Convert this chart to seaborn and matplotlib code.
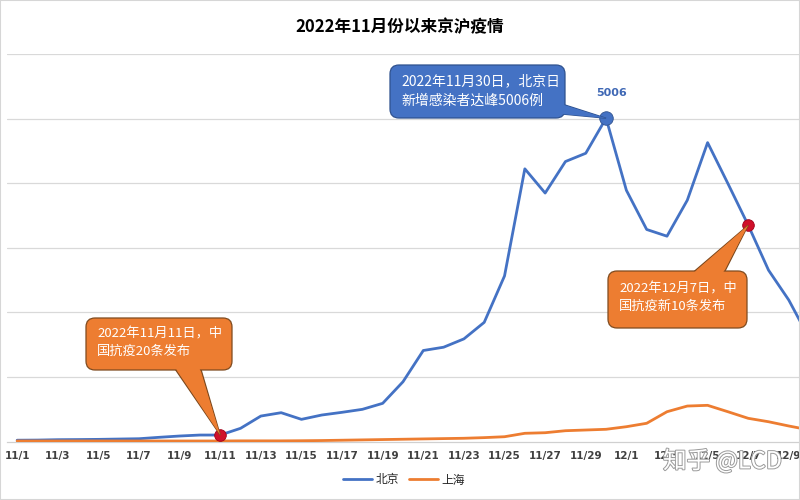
import numpy as np
import pandas as pd
import matplotlib
matplotlib.use("Agg")
import matplotlib.pyplot as plt
import seaborn as sns
from matplotlib.patches import FancyBboxPatch, Polygon, Rectangle
from matplotlib.transforms import Affine2D
import matplotlib.patheffects as pe

# ---------------- data ----------------
dates = ["11/1", "11/2", "11/3", "11/4", "11/5", "11/6", "11/7", "11/8", "11/9", "11/10",
         "11/11", "11/12", "11/13", "11/14", "11/15", "11/16", "11/17", "11/18", "11/19", "11/20",
         "11/21", "11/22", "11/23", "11/24", "11/25", "11/26", "11/27", "11/28", "11/29", "11/30",
         "12/1", "12/2", "12/3", "12/4", "12/5", "12/6", "12/7", "12/8", "12/9", "12/10"]
beijing = [20, 22, 28, 30, 33, 38, 43, 65, 85, 100,
           100, 204, 394, 446, 343, 410, 452, 498, 591, 925,
           1409, 1460, 1589, 1845, 2564, 4222, 3847, 4335, 4463, 5006,
           3890, 3283, 3179, 3736, 4628, 3994, 3349, 2653, 2189, 1600]
shanghai = [8, 8, 8, 8, 8, 8, 8, 8, 8, 8,
            8, 10, 10, 10, 12, 15, 20, 25, 30, 35,
            40, 45, 50, 60, 74, 127, 136, 167, 178, 189,
            229, 282, 461, 549, 560, 461, 359, 306, 240, 180]
series_names = ["北京", "上海"]
title = "2022年11月份以来京沪疫情"
note_peak = "2022年11月30日，北京日\n新增感染者达峰5006例"
note_1111 = "2022年11月11日，中\n国抗疫20条发布"
note_1207 = "2022年12月7日，中\n国抗疫新10条发布"

# ---------------- style ----------------
sns.set_theme(style="white")
plt.rcParams["font.family"] = ["Noto Sans CJK SC", "DejaVu Sans"]

W, H = 800, 500
fig = plt.figure(figsize=(W / 100, H / 100), dpi=100)
fig.patch.set_facecolor("white")
ax = fig.add_axes([7 / W, 1 - 441.5 / H, 793 / W, (441.5 - 54) / H])

day = np.arange(len(dates))
df = pd.DataFrame({
    "day": np.concatenate([day, day]),
    "value": beijing + shanghai,
    "city": [series_names[0]] * len(dates) + [series_names[1]] * len(dates),
})
BLUE = "#4472C4"
ORANGE = "#ED7D31"
sns.lineplot(data=df, x="day", y="value", hue="city",
             palette={series_names[0]: BLUE, series_names[1]: ORANGE},
             linewidth=2.0, ax=ax, legend=True, zorder=3)

ax.set_xlabel("")
ax.set_ylabel("")
ax.set_yticks(np.arange(1000, 6001, 1000))
ax.set_yticklabels([])
ax.tick_params(axis="y", length=0)
ax.yaxis.grid(True, color="#D9D9D9", linewidth=0.9)
ax.set_axisbelow(True)
for s in ["left", "right", "top"]:
    ax.spines[s].set_visible(False)
ax.spines["bottom"].set_color("#D0D0D0")
ax.spines["bottom"].set_linewidth(0.9)

ax.set_xticks(day[::2])
ax.set_xticklabels(dates[::2], fontsize=7.5, fontweight="bold", color="#404040")
ax.set_xticks(np.arange(1.5, 38.6, 2), minor=True)
ax.tick_params(axis="x", which="major", length=0, pad=7)
ax.tick_params(axis="x", which="minor", length=4, color="#D0D0D0", width=0.8, direction="out")
for lab in ax.get_xticklabels():
    lab.set_family(["DejaVu Sans"])
    lab.set_fontweight("bold")

# limits set after ticks so the ticks do not widen the view
ax.set_xlim(-0.5, 38.55)
ax.set_ylim(0, 6000)

sns.move_legend(ax, "center", bbox_to_anchor=(404 / W, 1 - 480 / H),
                bbox_transform=fig.transFigure, ncol=2, frameon=False, title=None,
                fontsize=8.5, handlelength=2.4, columnspacing=0.9, handletextpad=0.3)

# title
fig.text(400 / W, 1 - 27 / H, title, ha="center", va="center",
         fontsize=12, fontweight="bold", color="black")

# pixel (top-left origin) transform
PX = Affine2D().scale(1 / W, -1 / H).translate(0, 1) + fig.transFigure


def data_px(x, y):
    dx, dy = ax.transData.transform((x, y))
    return dx, H - dy


i_peak = dates.index("11/30")
i_1111 = dates.index("11/11")
i_1207 = dates.index("12/7")
p_peak = data_px(i_peak, beijing[i_peak])
p_1111 = data_px(i_1111, beijing[i_1111])
p_1207 = data_px(i_1207, beijing[i_1207])


def callout(x0, y0, x1, y1, base, tip, face, edge, text, tx, ty, fs):
    wedge = Polygon([base[0], base[1], tip], closed=True, facecolor=face,
                    edgecolor=edge, linewidth=0.9, transform=PX, zorder=6)
    fig.add_artist(wedge)
    box = FancyBboxPatch((x0, y0), x1 - x0, y1 - y0,
                         boxstyle="round,pad=0,rounding_size=9",
                         facecolor=face, edgecolor=edge, linewidth=0.9,
                         transform=PX, zorder=7)
    fig.add_artist(box)
    # cover the box outline where the pointer joins it
    bx = [(base[0][0] + 1.2, base[0][1]), (base[1][0] - 1.2, base[1][1])]
    cover = Polygon([bx[0], bx[1], tip], closed=True, facecolor=face,
                    edgecolor="none", transform=PX, zorder=8)
    fig.add_artist(cover)
    fig.text(tx / W, 1 - ty / H, text, ha="left", va="center", fontsize=fs,
             color="white", linespacing=1.45, zorder=9, fontweight="medium")


# peak callout (blue)
callout(390, 65, 565, 118, [(540, 112), (562, 104)], p_peak, BLUE, "#2F528F",
        note_peak, 401, 91, 10)
# 11/11 callout (orange)
callout(86, 318, 232, 370, [(173, 366), (200, 366)], p_1111, ORANGE, "#7F4A1E",
        note_1111, 97, 343, 9.5)
# 12/7 callout (orange)
callout(608, 271, 747, 328, [(690, 275), (723, 275)], p_1207, ORANGE, "#7F4A1E",
        note_1207, 619, 298, 9.5)

# markers
ax.scatter([i_1111, i_1207], [beijing[i_1111], beijing[i_1207]], s=70,
           color="#D0102A", edgecolor="#A0001A", linewidth=0.6, zorder=10)
ax.scatter([i_peak], [beijing[i_peak]], s=95, color=BLUE, edgecolor="#2F528F",
           linewidth=0.6, zorder=10)
ax.annotate(f"{beijing[i_peak]}", (i_peak, beijing[i_peak]), xytext=(4, 18),
            textcoords="offset points", ha="center", va="center", fontsize=8,
            fontweight="bold", color="#3F68B5", family=["DejaVu Sans"])

# watermark
fig.text(663 / W, 1 - 461 / H, "知乎 @LCD", ha="left", va="center", fontsize=17,
         color="white", zorder=11,
         path_effects=[pe.withStroke(linewidth=1.4, foreground="#9A9A9A")])

# screenshot frame lines
fig.add_artist(Rectangle((0, 0), 1, 1, transform=fig.transFigure, fill=False,
                         edgecolor="#D6D6D6", linewidth=1.5))

fig.savefig("out.png", dpi=100)
